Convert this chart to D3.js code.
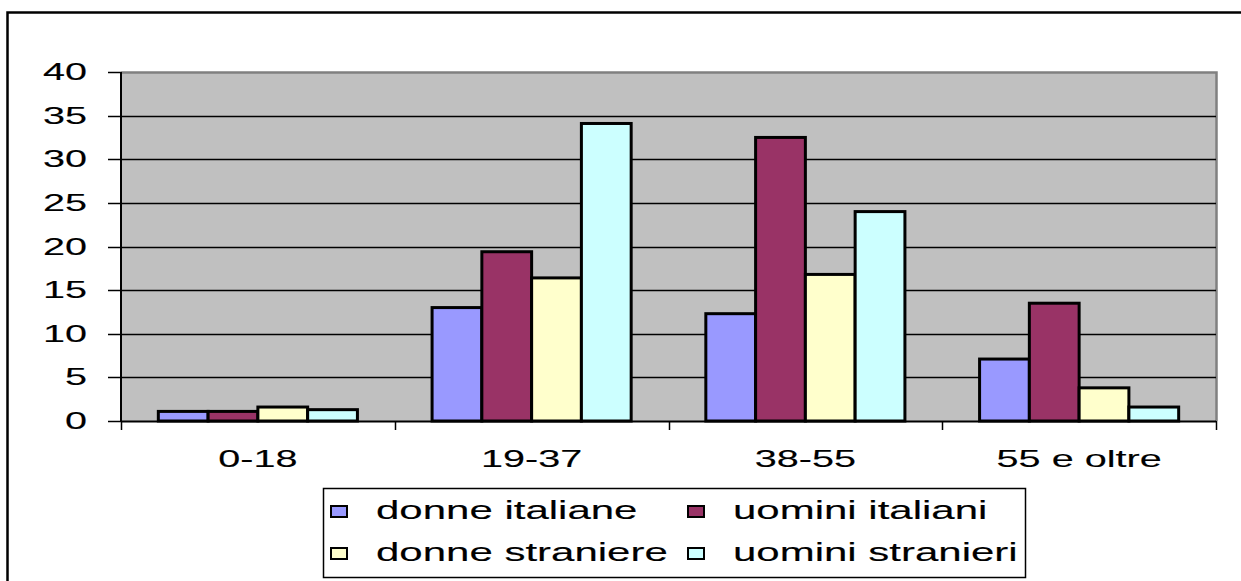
<!DOCTYPE html>
<html>
<head>
<meta charset="utf-8">
<script src="https://cdn.jsdelivr.net/npm/d3@7"></script>
<style>
  html, body { margin: 0; padding: 0; background: #fff; }
  svg { display: block; }
  text { font-family: "Liberation Sans", Arial, sans-serif; fill: #000; stroke: #000; stroke-width: 0.12px; }
</style>
</head>
<body>
<svg id="chart" width="1241" height="581"></svg>
<script>
// Age groups and the four population groups
const categories = ["0-18", "19-37", "38-55", "55 e oltre"];
const seriesNames = ["donne italiane", "uomini italiani", "donne straniere", "uomini stranieri"];
const donneItaliane   = [1.1, 13.0, 12.3, 7.1];
const uominiItaliani  = [1.1, 19.4, 32.5, 13.5];
const donneStraniere  = [1.6, 16.4, 16.8, 3.8];
const uominiStranieri = [1.3, 34.1, 24.0, 1.6];
const yTicks = [0, 5, 10, 15, 20, 25, 30, 35, 40];
const colors = ["#9999FF", "#993366", "#FFFFCC", "#CCFFFF"];

const seriesValues = [donneItaliane, uominiItaliani, donneStraniere, uominiStranieri];
const rows = categories.map((c, i) => ({
  category: c,
  values: seriesNames.map((s, j) => ({ series: s, value: seriesValues[j][i], color: colors[j] }))
}));

const svg = d3.select("#chart");
const plot = { left: 121, right: 1216, top: 72, bottom: 421 };
const sx = 1.65; // horizontally widened lettering
const fontSize = 24;

// Outer frame (only top and left edges fall inside the view)
svg.append("path")
  .attr("d", "M7.5,600 V12.5 H1260")
  .attr("fill", "none").attr("stroke", "#000").attr("stroke-width", 2.5);

const x0 = d3.scaleBand().domain(categories).range([plot.left, plot.right]).padding(0);
const x1 = d3.scaleBand().domain(seriesNames).range([0, x0.bandwidth()])
  .paddingInner(0).paddingOuter(0.75);
const y = d3.scaleLinear().domain([0, 40]).range([plot.bottom, plot.top]);

// Plot background
svg.append("rect")
  .attr("x", plot.left).attr("y", plot.top)
  .attr("width", plot.right - plot.left).attr("height", plot.bottom - plot.top)
  .attr("fill", "#C0C0C0");
// Plot border (grey, top and right)
svg.append("path")
  .attr("d", `M${plot.left},${plot.top + 0.5} H${plot.right + 0.5} V${plot.bottom}`)
  .attr("fill", "none").attr("stroke", "#808080").attr("stroke-width", 2.5);

// Gridlines
svg.append("g").selectAll("line")
  .data(yTicks.filter(d => d > 0 && d < 40))
  .join("line")
  .attr("x1", plot.left).attr("x2", plot.right)
  .attr("y1", d => Math.round(y(d)) + 0.5).attr("y2", d => Math.round(y(d)) + 0.5)
  .attr("stroke", "#000").attr("stroke-width", 1.5);

// Bars
const groups = svg.append("g").selectAll("g")
  .data(rows).join("g")
  .attr("transform", d => `translate(${x0(d.category)},0)`);
groups.selectAll("rect")
  .data(d => d.values).join("rect")
  .attr("x", d => x1(d.series))
  .attr("y", d => y(d.value))
  .attr("width", x1.bandwidth())
  .attr("height", d => y(0) - y(d.value))
  .attr("fill", d => d.color)
  .attr("stroke", "#000").attr("stroke-width", 3);

// Y axis
const yAxis = svg.append("g");
yAxis.append("line")
  .attr("x1", plot.left).attr("x2", plot.left)
  .attr("y1", plot.top).attr("y2", plot.bottom)
  .attr("stroke", "#000").attr("stroke-width", 2);
yAxis.selectAll("line.tick")
  .data(yTicks).join("line").attr("class", "tick")
  .attr("x1", plot.left - 13).attr("x2", plot.left)
  .attr("y1", d => Math.round(y(d)) + 0.5).attr("y2", d => Math.round(y(d)) + 0.5)
  .attr("stroke", "#000").attr("stroke-width", 1.5);
yAxis.selectAll("text")
  .data(yTicks).join("text")
  .attr("transform", d => `translate(87,${y(d) + 8}) scale(${sx},1)`)
  .attr("text-anchor", "end")
  .attr("font-size", fontSize)
  .text(d => d);

// X axis
const xAxis = svg.append("g");
xAxis.append("line")
  .attr("x1", plot.left).attr("x2", plot.right)
  .attr("y1", plot.bottom + 0.5).attr("y2", plot.bottom + 0.5)
  .attr("stroke", "#000").attr("stroke-width", 2);
const boundaries = categories.map(c => x0(c)).concat([plot.right]);
xAxis.selectAll("line.tick")
  .data(boundaries).join("line").attr("class", "tick")
  .attr("x1", d => Math.round(d) + 0.5).attr("x2", d => Math.round(d) + 0.5)
  .attr("y1", plot.bottom).attr("y2", plot.bottom + 9)
  .attr("stroke", "#000").attr("stroke-width", 1.5);
xAxis.selectAll("text")
  .data(categories).join("text")
  .attr("transform", d => `translate(${x0(d) + x0.bandwidth() / 2},467) scale(${sx},1)`)
  .attr("text-anchor", "middle")
  .attr("font-size", fontSize)
  .text(d => d);

// Legend
const legend = svg.append("g");
legend.append("rect")
  .attr("x", 323.5).attr("y", 488.5).attr("width", 702).attr("height", 89)
  .attr("fill", "#fff").attr("stroke", "#000").attr("stroke-width", 1.5);
const legendPos = [
  { x: 331, y: 519 }, { x: 688, y: 519 },
  { x: 331, y: 561 }, { x: 688, y: 561 }
];
const items = legend.selectAll("g.item")
  .data(seriesNames.map((s, i) => ({ name: s, color: colors[i], pos: legendPos[i] })))
  .join("g").attr("class", "item")
  .attr("transform", d => `translate(${d.pos.x},${d.pos.y})`);
items.append("rect")
  .attr("x", 0).attr("y", -13).attr("width", 16).attr("height", 11)
  .attr("fill", d => d.color).attr("stroke", "#000").attr("stroke-width", 2);
items.append("text")
  .attr("transform", `translate(45,0) scale(1.68,1)`)
  .attr("font-size", 25)
  .text(d => d.name);
</script>
</body>
</html>
